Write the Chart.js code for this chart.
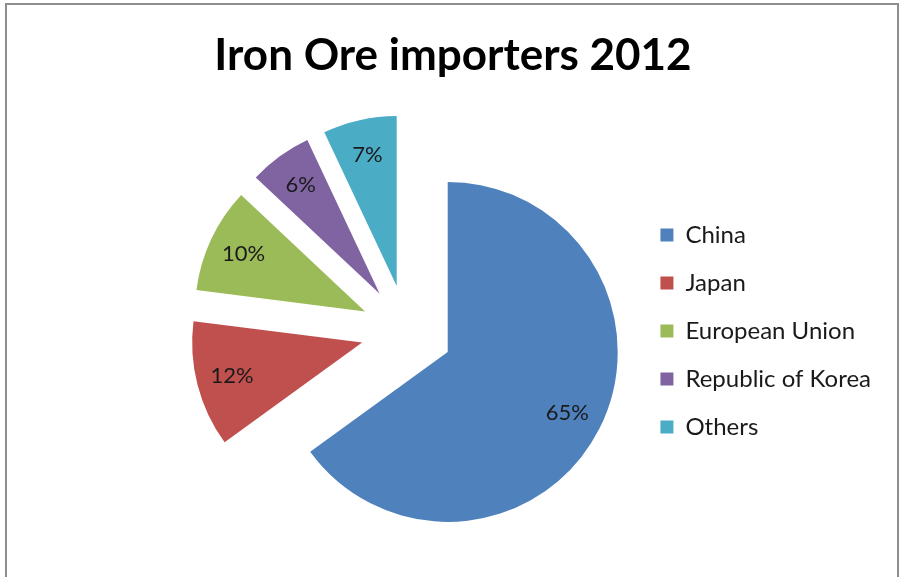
<!DOCTYPE html>
<html>
<head>
<meta charset="utf-8">
<title>Iron Ore importers 2012</title>
<script src="https://cdn.jsdelivr.net/npm/chart.js@4.4.1/dist/chart.umd.min.js"></script>
<style>
  html, body { margin: 0; padding: 0; background: #fff; }
  #wrap { position: relative; width: 902px; height: 577px; overflow: hidden; }
  #frame { position: absolute; left: 5px; top: 3px; width: 890px; height: 600px; border: 2px solid #8e8e8e; border-bottom: none; pointer-events: none; }
</style>
</head>
<body>
<div id="wrap">
  <canvas id="pieChart" width="902" height="577"></canvas>
  <div id="frame"></div>
</div>
<script>
const chartTitle = 'Iron Ore importers 2012';
const countries = ['China', 'Japan', 'European Union', 'Republic of Korea', 'Others'];
const shares = [65, 12, 10, 6, 7];
const sliceColors = ['#4F81BD', '#C0504D', '#9BBB59', '#8064A2', '#4BACC6'];

const explodeDistance = 46;
const labelRadius = 0.79;

// pull every slice out from the centre along its middle angle (exploded pie)
const explodePlugin = {
    id: 'explode',
    afterDatasetUpdate(chart, args) {
        args.meta.data.forEach(arc => {
            const mid = (arc.startAngle + arc.endAngle) / 2;
            arc.x += Math.cos(mid) * explodeDistance;
            arc.y += Math.sin(mid) * explodeDistance;
        });
    }
};

// percentage text inside each slice
const sliceLabelPlugin = {
    id: 'sliceLabels',
    afterDatasetsDraw(chart) {
        const ctx = chart.ctx;
        const total = shares.reduce((a, b) => a + b, 0);
        ctx.save();
        ctx.font = '22px Lato';
        ctx.fillStyle = '#1a1a1a';
        ctx.textAlign = 'center';
        ctx.textBaseline = 'middle';
        chart.getDatasetMeta(0).data.forEach((arc, i) => {
            const mid = (arc.startAngle + arc.endAngle) / 2;
            const r = arc.outerRadius * labelRadius;
            const pct = Math.round(shares[i] / total * 100) + '%';
            ctx.fillText(pct, arc.x + Math.cos(mid) * r, arc.y + Math.sin(mid) * r);
        });
        ctx.restore();
    }
};

// title centred on the whole canvas, not on the pie area
const pageTitlePlugin = {
    id: 'pageTitle',
    afterDraw(chart) {
        const ctx = chart.ctx;
        ctx.save();
        ctx.font = 'bold 44px Lato';
        ctx.fillStyle = '#000';
        ctx.textAlign = 'center';
        ctx.textBaseline = 'middle';
        ctx.fillText(chartTitle, chart.width / 2 + 2, 56);
        ctx.restore();
    }
};

new Chart(document.getElementById('pieChart'), {
    type: 'pie',
    data: {
        labels: countries,
        datasets: [{
            data: shares,
            backgroundColor: sliceColors,
            borderWidth: 0
        }]
    },
    options: {
        responsive: false,
        animation: false,
        radius: 170,
        layout: {
            padding: { left: 177, right: 21, top: 95, bottom: 10 }
        },
        plugins: {
            title: { display: false },
            legend: {
                position: 'right',
                fullSize: false,
                labels: {
                    boxWidth: 13,
                    boxHeight: 13,
                    padding: 24,
                    color: '#1a1a1a',
                    font: { family: 'Lato', size: 24 }
                }
            },
            tooltip: { enabled: false }
        }
    },
    plugins: [explodePlugin, sliceLabelPlugin, pageTitlePlugin]
});
</script>
</body>
</html>
